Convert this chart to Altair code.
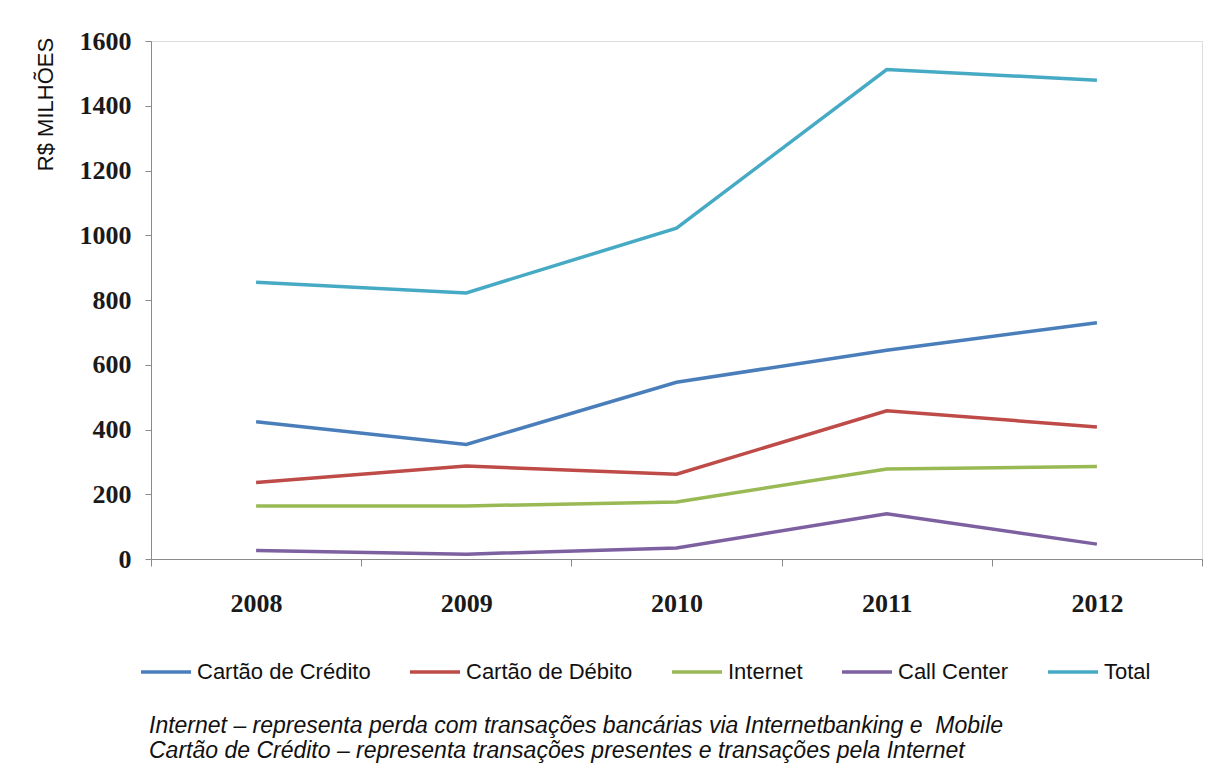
import altair as alt
import pandas as pd

years = [2008, 2009, 2010, 2011, 2012]
series_names = ["Cartão de Crédito", "Cartão de Débito", "Internet", "Call Center", "Total"]
credito = [424, 354, 546, 645, 730]
debito = [236, 287, 262, 458, 408]
internet = [164, 164, 176, 278, 286]
call_center = [26, 15, 34, 140, 46]
total = [855, 822, 1022, 1512, 1479]
colors = ["#4A7EBB", "#BE4B48", "#98B954", "#7D60A0", "#46AAC5"]
y_ticks = [0, 200, 400, 600, 800, 1000, 1200, 1400, 1600]
x_ticks = [2007.5, 2008, 2008.5, 2009, 2009.5, 2010, 2010.5, 2011, 2011.5, 2012, 2012.5]
footnote = [
    "Internet – representa perda com transações bancárias via Internetbanking e \u00a0Mobile",
    "Cartão de Crédito – representa transações presentes e transações pela Internet",
]

rows = []
for name, vals in zip(series_names, [credito, debito, internet, call_center, total]):
    for yr, v in zip(years, vals):
        rows.append({"ano": yr, "serie": name, "valor": v})
df = pd.DataFrame(rows)

axis_gray = "#8a8a8a"

chart = alt.Chart(df).mark_line(strokeWidth=3.5).encode(
    x=alt.X(
        "ano:Q",
        scale=alt.Scale(domain=[2007.5, 2012.5], nice=False, zero=False),
        axis=alt.Axis(
            title=None,
            values=x_ticks,
            labelExpr="datum.value % 1 === 0 ? '' + datum.value : ''",
            tickOpacity={"condition": {"test": "datum.value % 1 === 0", "value": 0}, "value": 1},
            tickSize=7,
            tickColor=axis_gray,
            domainColor=axis_gray,
            labelFont="Liberation Serif",
            labelFontWeight="bold",
            labelFontSize=26,
            labelColor="#1a1a1a",
            labelPadding=24,
            labelOverlap=False,
            grid=False,
        ),
    ),
    y=alt.Y(
        "valor:Q",
        scale=alt.Scale(domain=[0, 1600], nice=False),
        axis=alt.Axis(
            title="R$ MILHÕES",
            values=y_ticks,
            format="d",
            tickSize=6,
            tickColor=axis_gray,
            domainColor=axis_gray,
            labelFont="Liberation Serif",
            labelFontWeight="bold",
            labelFontSize=26,
            labelColor="#1a1a1a",
            labelPadding=14,
            titleFont="Liberation Sans",
            titleFontWeight="normal",
            titleFontSize=22,
            titleColor="#111111",
            titleAngle=270,
            titleAlign="center",
            titleBaseline="middle",
            titleX=-106,
            titleY=63,
            grid=False,
        ),
    ),
    color=alt.Color(
        "serie:N",
        scale=alt.Scale(domain=series_names, range=colors),
        legend=alt.Legend(
            orient="none",
            legendX=-12,
            legendY=604,
            direction="horizontal",
            title=None,
            symbolType="stroke",
            symbolStrokeWidth=3.5,
            symbolSize=2500,
            labelFont="Liberation Sans",
            labelFontSize=22,
            labelColor="#111111",
            labelOffset=4,
            labelLimit=400,
            columnPadding=32,
        ),
    ),
    order=alt.Order("ano:Q"),
    detail="serie:N",
).properties(
    width=1051,
    height=518,
    autosize=alt.AutoSizeParams(type="none"),
    padding={"left": 151, "top": 41, "right": 28, "bottom": 211},
    title=alt.TitleParams(
        text=footnote,
        orient="bottom",
        anchor="start",
        dx=115,
        font="Liberation Sans",
        fontStyle="italic",
        fontWeight="normal",
        fontSize=23,
        lineHeight=25,
        color="#111111",
        offset=32,
    ),
).configure_view(stroke=None).configure(background="white")

chart.save("out.html", embed_options={"renderer": "svg", "actions": False})
